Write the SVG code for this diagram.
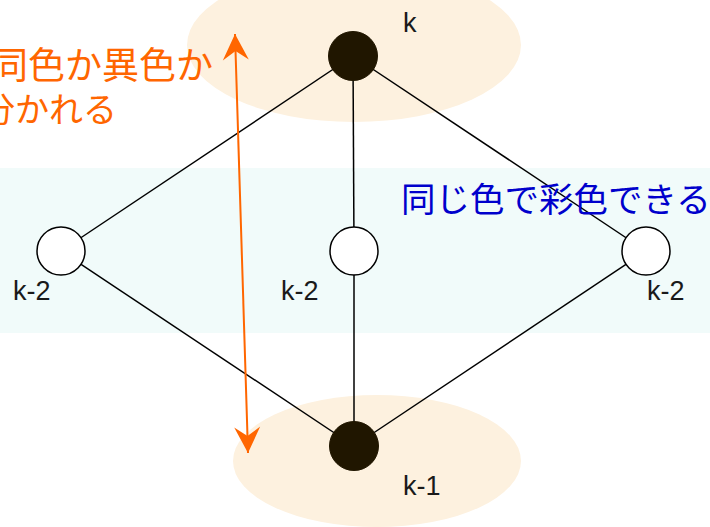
<svg xmlns="http://www.w3.org/2000/svg" width="710" height="527" viewBox="0 0 710 527">
<style>
.edge{stroke:#000;stroke-width:1.5;fill:none}
.dark{fill:#201600;stroke:#201600;stroke-width:1}
.light{fill:#fff;stroke:#000;stroke-width:1.5}
.lbl{font-family:"Liberation Sans",Arial,sans-serif;font-size:27px;fill:#1a1a1a}
.jp{font-family:"Noto Sans CJK JP","Noto Sans CJK SC",sans-serif;font-size:34px}
</style>
<defs>
<marker id="ah" markerUnits="userSpaceOnUse" markerWidth="30" markerHeight="30" viewBox="-28 -15 30 30" refX="0" refY="0" orient="auto-start-reverse">
<path d="M0,0 L-26,-13 L-17,0 L-26,13 Z" fill="#ff6600"/>
</marker>
</defs>
<rect x="0" y="168" width="710" height="165" fill="#f1fbfa"/>
<ellipse cx="354" cy="45" rx="167" ry="77" fill="#fdf1df"/>
<ellipse cx="377" cy="461" rx="144" ry="66" fill="#fdf1df"/>
<g id="connectors">
<line class="edge" x1="353" y1="56" x2="61" y2="251"/>
<line class="edge" x1="353" y1="56" x2="354" y2="251"/>
<line class="edge" x1="353" y1="56" x2="646" y2="251"/>
<line class="edge" x1="61" y1="251" x2="354" y2="446"/>
<line class="edge" x1="354" y1="251" x2="354" y2="446"/>
<line class="edge" x1="646" y1="251" x2="354" y2="446"/>
<line x1="235" y1="34" x2="248" y2="453" stroke="#ff6600" stroke-width="2" marker-start="url(#ah)" marker-end="url(#ah)"/>
</g>
<g id="n-top">
<circle class="dark" cx="353" cy="56" r="24.5"/>
<text class="lbl" x="403" y="32">k</text>
</g>
<g id="n-left">
<circle class="light" cx="61" cy="251" r="24"/>
<text class="lbl" x="13" y="300">k-2</text>
</g>
<g id="n-mid">
<circle class="light" cx="354" cy="251" r="24"/>
<text class="lbl" x="281" y="300">k-2</text>
</g>
<g id="n-right">
<circle class="light" cx="646" cy="251" r="24"/>
<text class="lbl" x="647" y="300">k-2</text>
</g>
<g id="n-bottom">
<circle class="dark" cx="354" cy="446" r="24.5"/>
<text class="lbl" x="403" y="495">k-1</text>
</g>
<g id="note-orange">
<text class="jp" fill="#ff6600" text-anchor="end" x="213" y="79" style="font-size:37px">同色か異色か</text>
<text class="jp" fill="#ff6600" text-anchor="end" x="117" y="122">分かれる</text>
</g>
<g id="note-blue">
<text class="jp" fill="#0000cc" x="401" y="212" style="font-size:34.5px">同じ色で彩色できる</text>
</g>
</svg>
